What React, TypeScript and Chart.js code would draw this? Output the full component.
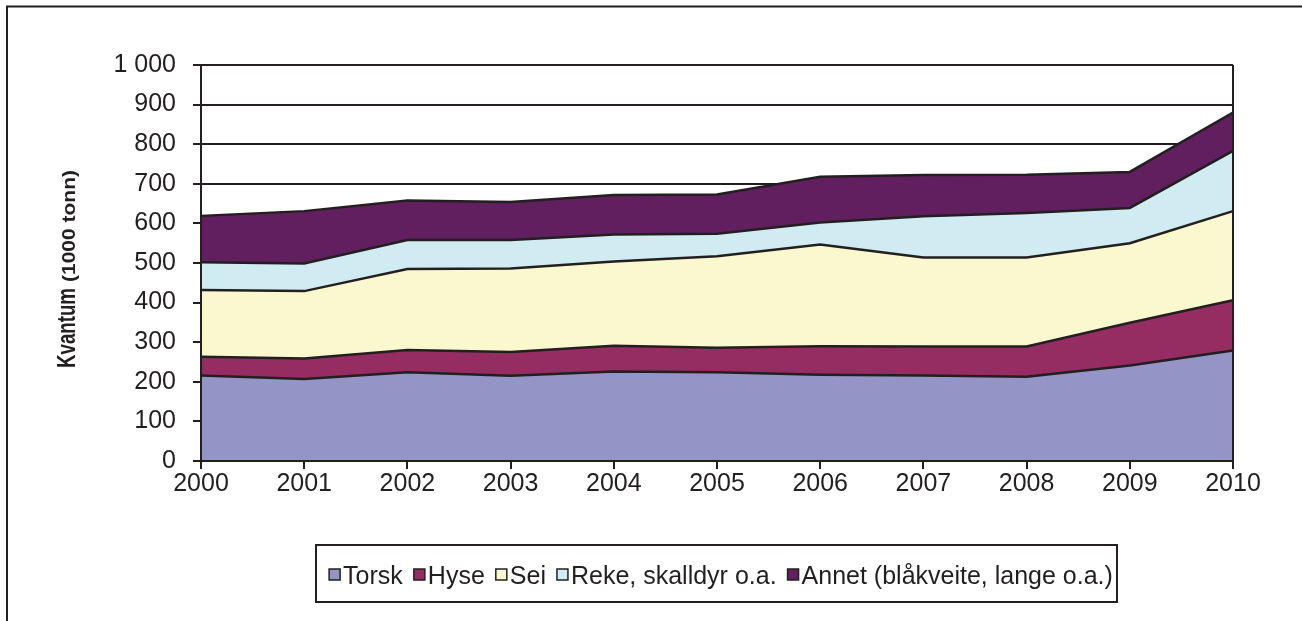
import React, { useEffect, useRef } from "react";
import { Chart, registerables } from "chart.js";

Chart.register(...registerables);

const years = ["2000", "2001", "2002", "2003", "2004", "2005", "2006", "2007", "2008", "2009", "2010"];
const torsk = [216, 207, 224, 215, 226, 224, 218, 216, 213, 241, 279];
const hyse = [47, 52, 56, 60, 65, 62, 72, 73, 76, 108, 127];
const sei = [169, 170, 205, 211, 213, 231, 257, 225, 225, 201, 225];
const reke = [70, 70, 73, 72, 68, 57, 55, 104, 112, 89, 152];
const annet = [117, 132, 100, 96, 100, 99, 116, 104, 97, 91, 97];
const seriesNames = ["Torsk", "Hyse", "Sei", "Reke, skalldyr o.a.", "Annet (blåkveite, lange o.a.)"];
const seriesColors = ["#9494c6", "#962d62", "#faf8ce", "#d0ecf2", "#621f5f"];
const axisTitleMain = "Kvantum";
const axisTitleUnit = "(1000 tonn)";

const INK = "#231f20";
const FONT = '"Liberation Sans", Arial, sans-serif';

const frameAndTitle = {
  id: "frameAndTitle",
  beforeDraw(chart: any) {
    const ctx = chart.ctx;
    ctx.save();
    ctx.fillStyle = "#fff";
    ctx.fillRect(0, 0, chart.width, chart.height);
    ctx.strokeStyle = INK;
    ctx.lineWidth = 2;
    ctx.beginPath();
    ctx.moveTo(7, chart.height);
    ctx.lineTo(7, 6.5);
    ctx.lineTo(chart.width, 6.5);
    ctx.stroke();

    ctx.translate(75, 368);
    ctx.rotate(-Math.PI / 2);
    ctx.fillStyle = INK;
    ctx.textAlign = "left";
    ctx.textBaseline = "alphabetic";
    ctx.font = "bold 25px " + FONT;
    const w1 = ctx.measureText(axisTitleMain).width;
    ctx.save();
    ctx.scale(80 / w1, 1);
    ctx.fillText(axisTitleMain, 0, 0);
    ctx.restore();
    ctx.font = "bold 19px " + FONT;
    const w2 = ctx.measureText(axisTitleUnit).width;
    ctx.save();
    ctx.translate(86, 0);
    ctx.scale(112 / w2, 1);
    ctx.fillText(axisTitleUnit, 0, 0);
    ctx.restore();
    ctx.restore();
  },
};

const plotRightBorder = {
  id: "plotRightBorder",
  afterDatasetsDraw(chart: any) {
    const { ctx, chartArea } = chart;
    ctx.save();
    ctx.strokeStyle = INK;
    ctx.lineWidth = 2;
    ctx.beginPath();
    ctx.moveTo(chartArea.right, chartArea.top);
    ctx.lineTo(chartArea.right, chartArea.bottom);
    ctx.stroke();
    ctx.restore();
  },
};

const boxLegend = {
  id: "boxLegend",
  afterDraw(chart: any) {
    const ctx = chart.ctx;
    const box = { l: 316, t: 545, r: 1117, b: 602 };
    ctx.save();
    ctx.lineWidth = 2;
    ctx.strokeStyle = INK;
    ctx.strokeRect(box.l, box.t, box.r - box.l, box.b - box.t);
    ctx.font = "25px " + FONT;
    const items = chart.data.datasets.map((ds: any) => ({ text: ds.label, color: ds.backgroundColor }));
    const sq = 11;
    const gapText = 3;
    const gapItem = 11;
    const widths = items.map((it: any) => sq + gapText + ctx.measureText(it.text).width);
    const total = widths.reduce((a: number, b: number) => a + b, 0) + gapItem * (items.length - 1);
    let x = 721 - total / 2;
    const baseline = 584;
    items.forEach((it: any, i: number) => {
      ctx.fillStyle = it.color;
      ctx.fillRect(x, 569, sq, sq);
      ctx.lineWidth = 1.5;
      ctx.strokeStyle = INK;
      ctx.strokeRect(x, 569, sq, sq);
      ctx.fillStyle = INK;
      ctx.textAlign = "left";
      ctx.textBaseline = "alphabetic";
      ctx.fillText(it.text, x + sq + gapText, baseline);
      x += widths[i] + gapItem;
    });
    ctx.restore();
  },
};

export default function App() {
  const canvasRef = useRef<HTMLCanvasElement | null>(null);

  useEffect(() => {
    if (!canvasRef.current) return;
    const values = [torsk, hyse, sei, reke, annet];
    const chart = new Chart(canvasRef.current, {
      type: "line",
      data: {
        labels: years,
        datasets: values.map((v, i) => ({
          label: seriesNames[i],
          data: v,
          backgroundColor: seriesColors[i],
          borderColor: INK,
          borderWidth: 2.5,
          fill: i === 0 ? "origin" : "-1",
          pointRadius: 0,
          tension: 0,
        })),
      },
      options: {
        responsive: false,
        animation: false,
        events: [],
        layout: { padding: { top: 65, left: 0, right: 69, bottom: 120 } },
        plugins: {
          legend: { display: false },
          tooltip: { enabled: false },
          title: { display: false },
          filler: { propagate: false, drawTime: "beforeDatasetsDraw" },
        } as any,
        scales: {
          x: {
            type: "category",
            offset: false,
            afterFit: (scale: any) => {
              scale.height = 40;
            },
            grid: { drawOnChartArea: false, drawTicks: true, tickLength: 8, color: INK, lineWidth: 2 },
            border: { display: true, color: INK, width: 2, z: 1 },
            ticks: { color: INK, font: { family: FONT, size: 25 }, padding: 0, maxRotation: 0, autoSkip: false },
          },
          y: {
            stacked: true,
            min: 0,
            max: 1000,
            afterFit: (scale: any) => {
              scale.width = 201;
            },
            grid: { color: INK, lineWidth: 2, tickLength: 8, drawTicks: true },
            border: { display: true, color: INK, width: 2, z: 1 },
            ticks: {
              stepSize: 100,
              color: INK,
              padding: 17,
              font: { family: FONT, size: 25 },
              callback: (v: any) => {
                const n = Number(v);
                return n >= 1000 ? Math.floor(n / 1000) + " " + String(n % 1000).padStart(3, "0") : String(n);
              },
            },
          },
        },
      } as any,
      plugins: [frameAndTitle, plotRightBorder, boxLegend],
    });
    return () => chart.destroy();
  }, []);

  return (
    <div style={{ position: "absolute", left: 0, top: 0, width: 1302, height: 621 }}>
      <canvas ref={canvasRef} width={1302} height={621} style={{ display: "block" }} />
    </div>
  );
}
